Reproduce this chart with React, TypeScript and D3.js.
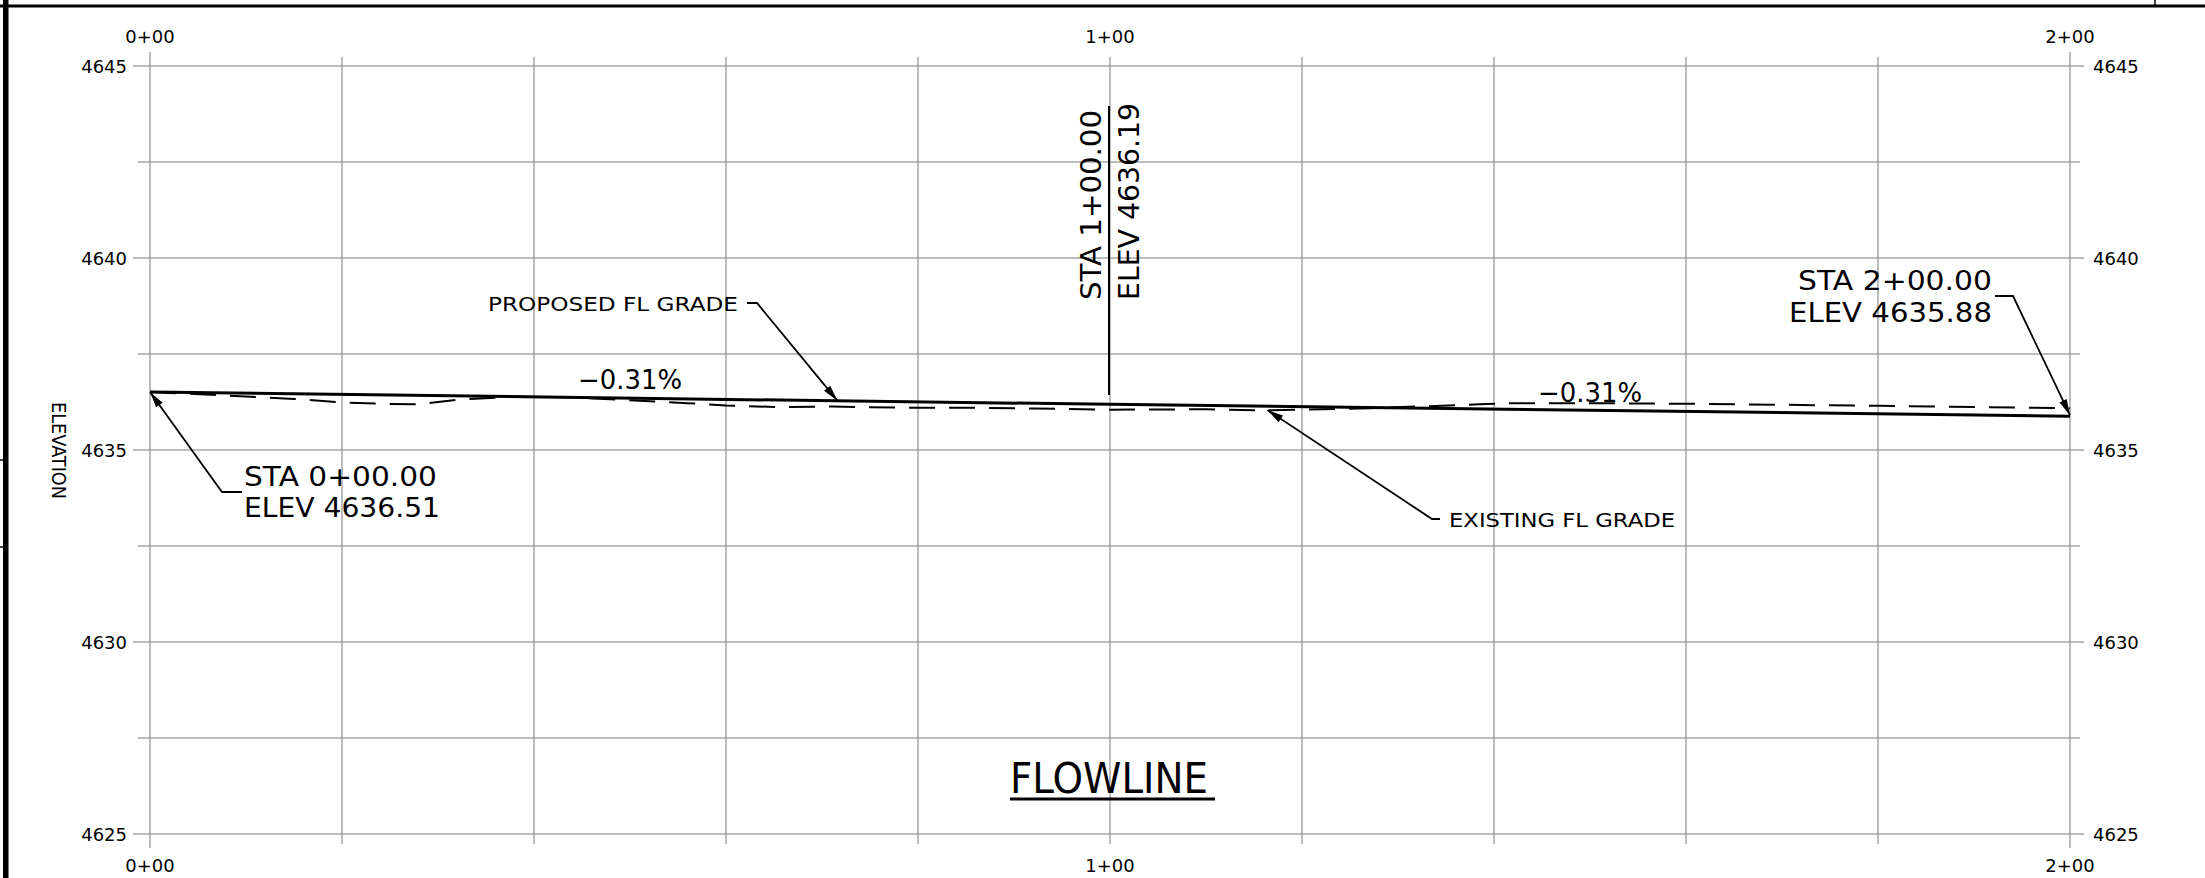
import React from "react";
import * as d3 from "d3";

const W = 2205;
const H = 878;

// Stations (ft) for vertical grid lines and labelled stations
const gridStations = [0, 20, 40, 60, 80, 100, 120, 140, 160, 180, 200];
const labelStations = [0, 100, 200];
// Elevation ticks
const majorElev = [4625, 4630, 4635, 4640, 4645];
const minorElev = [4627.5, 4632.5, 4637.5, 4642.5];

// Proposed flowline grade (station, elevation)
const proposedSta = [0, 100, 200];
const proposedElev = [4636.51, 4636.19, 4635.88];

// Existing flowline grade (station, elevation)
const existingSta = [0, 7, 15, 20, 25, 28, 32, 38, 44, 49.5, 56, 60, 65, 71, 79, 85, 92, 100, 110, 116, 122, 127, 133, 138.5, 142, 150, 162, 180, 200];
const existingElev = [4636.51, 4636.43, 4636.33, 4636.24, 4636.2, 4636.19, 4636.31, 4636.39, 4636.37, 4636.3, 4636.22, 4636.16, 4636.12, 4636.13, 4636.1, 4636.1, 4636.08, 4636.05, 4636.06, 4636.03, 4636.06, 4636.09, 4636.14, 4636.19, 4636.22, 4636.22, 4636.2, 4636.15, 4636.09];

const staLabel = (s: number) => `${Math.floor(s / 100)}+${String(s % 100).padStart(2, "0")}`;

const FONT = "'DejaVu Sans', 'Liberation Sans', sans-serif";

function arrow(tx: number, ty: number, fx: number, fy: number, L = 16, w = 4) {
  const dx = tx - fx, dy = ty - fy;
  const len = Math.hypot(dx, dy);
  const ux = dx / len, uy = dy / len;
  const nx = -uy, ny = ux;
  const bx = tx - ux * L, by = ty - uy * L;
  return `M${tx},${ty}L${bx + nx * w},${by + ny * w}L${bx - nx * w},${by - ny * w}Z`;
}

export default function App() {
  const x = d3.scaleLinear().domain([0, 200]).range([150, 2070]);
  const y = d3.scaleLinear().domain([4625, 4645]).range([834, 66]);

  const line = d3.line<[number, number]>().x(d => x(d[0])).y(d => y(d[1]));
  const proposed: [number, number][] = proposedSta.map((s, i) => [s, proposedElev[i]]);
  const existing: [number, number][] = existingSta.map((s, i) => [s, existingElev[i]]);

  const grid = "#a6a6a6";
  const txt = { fontFamily: FONT, fill: "#000" } as const;
  const ann = { fontFamily: FONT, fill: "#000", fontWeight: 400 } as const;

  // annotation anchor points
  const t0 = [x(0), y(proposedElev[0])];
  const t2 = [x(200), y(proposedElev[2])];
  const tp = [x(71.6), y(4636.51 - 0.00315 * 71.6)];
  const te = [x(116.4), y(4636.04)];

  return (
    <svg width={W} height={H} style={{ position: "absolute", left: 0, top: 0, display: "block", background: "#fff" }}>
      {/* sheet border */}
      <rect x={3} y={0} width={5.5} height={H} fill="#000" />
      <line x1={0} x2={W} y1={6} y2={6} stroke="#000" strokeWidth={3} />
      <line x1={2155} x2={2155} y1={0} y2={6} stroke="#000" strokeWidth={1.5} />
      <line x1={0} x2={3} y1={460} y2={460} stroke="#000" strokeWidth={1.5} />
      <line x1={0} x2={3} y1={547} y2={547} stroke="#000" strokeWidth={1.5} />

      {/* grid */}
      {gridStations.map(s => {
        const edge = s === 0 || s === 200;
        return (
          <line key={"v" + s} x1={x(s)} x2={x(s)} y1={edge ? 52 : 57} y2={edge ? 848 : 844} stroke={grid} strokeWidth={1.5} />
        );
      })}
      {majorElev.map(e => (
        <line key={"h" + e} x1={133} x2={2084} y1={y(e)} y2={y(e)} stroke={grid} strokeWidth={1.5} />
      ))}
      {minorElev.map(e => (
        <line key={"m" + e} x1={138} x2={2080} y1={y(e)} y2={y(e)} stroke={grid} strokeWidth={1.5} />
      ))}

      {/* axis labels */}
      {majorElev.map(e => (
        <g key={"yl" + e}>
          <text x={127} y={y(e) + 6.5} textAnchor="end" fontSize={18} style={txt}>{e}</text>
          <text x={2093} y={y(e) + 6.5} textAnchor="start" fontSize={18} style={txt}>{e}</text>
        </g>
      ))}
      {labelStations.map(s => (
        <g key={"xl" + s}>
          <text x={x(s)} y={43} textAnchor="middle" fontSize={18} style={txt}>{staLabel(s)}</text>
          <text x={x(s)} y={872} textAnchor="middle" fontSize={18} style={txt}>{staLabel(s)}</text>
        </g>
      ))}
      <text transform="translate(52,402) rotate(90)" fontSize={20} textLength={97} lengthAdjust="spacingAndGlyphs" style={txt}>ELEVATION</text>

      {/* profiles */}
      <path d={line(existing) || ""} fill="none" stroke="#000" strokeWidth={2} strokeDasharray="26 14" />
      <path d={line(proposed) || ""} fill="none" stroke="#000" strokeWidth={3} />

      {/* STA 0+00 callout */}
      <polyline points={`${t0[0]},${t0[1]} 222,492 242,492`} fill="none" stroke="#000" strokeWidth={1.8} />
      <path d={arrow(t0[0], t0[1], 222, 492)} fill="#000" />
      <text x={244} y={486} fontSize={26} textLength={193} lengthAdjust="spacingAndGlyphs" style={ann}>STA 0+00.00</text>
      <text x={244} y={517} fontSize={26} textLength={196} lengthAdjust="spacingAndGlyphs" style={ann}>ELEV 4636.51</text>

      {/* proposed FL grade callout */}
      <text x={488} y={311} fontSize={20} textLength={250} lengthAdjust="spacingAndGlyphs" style={ann}>PROPOSED FL GRADE</text>
      <polyline points={`747,303 757,303 ${tp[0]},${tp[1]}`} fill="none" stroke="#000" strokeWidth={1.8} />
      <path d={arrow(tp[0], tp[1], 757, 303)} fill="#000" />

      {/* slope labels */}
      <text x={578} y={389} fontSize={26} textLength={104} lengthAdjust="spacingAndGlyphs" style={ann}>−0.31%</text>
      <text x={1538} y={402} fontSize={26} textLength={104} lengthAdjust="spacingAndGlyphs" style={ann}>−0.31%</text>

      {/* STA 1+00 callout */}
      <line x1={x(100) - 1} x2={x(100) - 1} y1={106} y2={395} stroke="#000" strokeWidth={2} />
      <text transform="translate(1101,300) rotate(-90)" fontSize={28} textLength={190} lengthAdjust="spacingAndGlyphs" style={ann}>STA 1+00.00</text>
      <text transform="translate(1139,300) rotate(-90)" fontSize={28} textLength={197} lengthAdjust="spacingAndGlyphs" style={ann}>ELEV 4636.19</text>

      {/* STA 2+00 callout */}
      <text x={1992} y={290} textAnchor="end" fontSize={26} textLength={194} lengthAdjust="spacingAndGlyphs" style={ann}>STA 2+00.00</text>
      <text x={1992} y={322} textAnchor="end" fontSize={26} textLength={203} lengthAdjust="spacingAndGlyphs" style={ann}>ELEV 4635.88</text>
      <polyline points={`1995,296 2013,296 ${t2[0]},${t2[1] - 1}`} fill="none" stroke="#000" strokeWidth={1.8} />
      <path d={arrow(t2[0], t2[1] - 1, 2013, 296)} fill="#000" />

      {/* existing FL grade callout */}
      <text x={1449} y={527} fontSize={20} textLength={226} lengthAdjust="spacingAndGlyphs" style={ann}>EXISTING FL GRADE</text>
      <polyline points={`1440,519 1432,519 ${te[0]},${te[1]}`} fill="none" stroke="#000" strokeWidth={1.8} />
      <path d={arrow(te[0], te[1], 1432, 519)} fill="#000" />

      {/* title */}
      <text x={1010} y={793} fontSize={42} textLength={198} lengthAdjust="spacingAndGlyphs" style={ann}>FLOWLINE</text>
      <line x1={1010} x2={1215} y1={799} y2={799} stroke="#000" strokeWidth={3} />
    </svg>
  );
}
